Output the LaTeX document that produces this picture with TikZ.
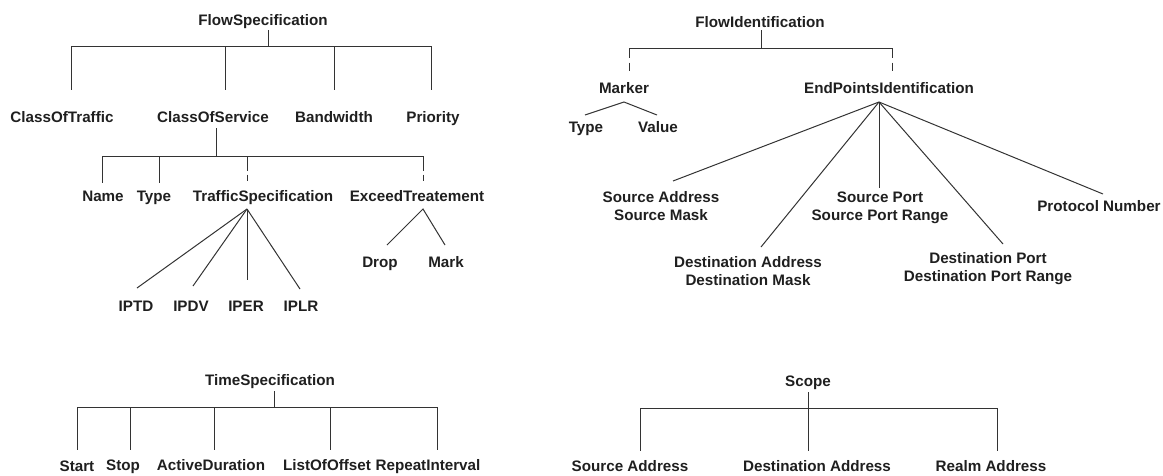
\documentclass[tikz,border=0pt]{standalone}
\usepackage{fontspec}
\setmainfont{Liberation Sans}
\begin{document}
\begin{tikzpicture}[x=1pt,y=-1pt,
  lbl/.style={font=\fontsize{15.2}{18.5}\selectfont\bfseries, text=black!88, inner sep=0pt, anchor=base},
  ln/.style={draw=black!80, line width=1pt},
  dshA/.style={ln, dash pattern=on 15pt off 3.5pt},
  dshB/.style={ln, dash pattern=on 10pt off 4.5pt}]
\useasboundingbox (0,0) rectangle (1163,475);
\newcommand{\twol}[2]{\begin{tabular}[t]{@{}c@{}}#1\\#2\end{tabular}}

% ---------------- FlowSpecification ----------------
\node[lbl] (fs) at (263,25) {FlowSpecification};
\coordinate (fsS) at (268,30); \coordinate (fsJ) at (268,46);
\node[lbl] (cot) at (62,122) {ClassOfTraffic};
\node[lbl] (cos) at (213,122) {ClassOfService};
\node[lbl] (bw) at (334,122) {Bandwidth};
\node[lbl] (pri) at (433,122) {Priority};
\coordinate (cotT) at (71,90); \coordinate (cosT) at (225,90);
\coordinate (bwT) at (334,90); \coordinate (priT) at (431,90);
\draw[ln] (fsS) -- (fsJ);
\draw[ln] (cotT|-fsJ) -- (priT|-fsJ);
\foreach \c in {cotT,cosT,bwT,priT} \draw[ln] (\c|-fsJ) -- (\c);

% ClassOfService children
\coordinate (cosS) at (216,128); \coordinate (cosJ) at (216,156);
\node[lbl] (name) at (103,201) {Name};
\node[lbl] (type) at (154,201) {Type};
\node[lbl] (ts) at (263,201) {TrafficSpecification};
\node[lbl] (et) at (417,201) {ExceedTreatement};
\coordinate (nameT) at (102,183); \coordinate (typeT) at (159,183);
\coordinate (tsT) at (247,181); \coordinate (etT) at (423,181);
\draw[ln] (cosS) -- (cosJ);
\draw[ln] (nameT|-cosJ) -- (etT|-cosJ);
\draw[ln] (nameT|-cosJ) -- (nameT);
\draw[ln] (typeT|-cosJ) -- (typeT);
\draw[dshA] (tsT|-cosJ) -- (tsT);
\draw[dshA] (etT|-cosJ) -- (etT);

% TrafficSpecification fan
\coordinate (tsA) at (247,209);
\node[lbl] (iptd) at (136,311) {IPTD};
\node[lbl] (ipdv) at (191,311) {IPDV};
\node[lbl] (iper) at (246,311) {IPER};
\node[lbl] (iplr) at (301,311) {IPLR};
\coordinate (iptdT) at (137,288); \coordinate (ipdvT) at (193,286);
\coordinate (iperT) at (247,280); \coordinate (iplrT) at (300,289);
\foreach \c in {iptdT,ipdvT,iperT,iplrT} \draw[ln] (tsA) -- (\c);

% ExceedTreatement fan
\coordinate (etA) at (423,209);
\node[lbl] (drop) at (380,267) {Drop};
\node[lbl] (mark) at (446,267) {Mark};
\coordinate (dropT) at (387,245); \coordinate (markT) at (445,245);
\draw[ln] (dropT) -- (etA) -- (markT);

% ---------------- FlowIdentification ----------------
\node[lbl] (fi) at (760,27) {FlowIdentification};
\coordinate (fiS) at (761,30); \coordinate (fiJ) at (761,48);
\node[lbl] (mk) at (624,93) {Marker};
\node[lbl] (epi) at (889,93) {EndPointsIdentification};
\coordinate (mkT) at (629,71); \coordinate (epiT) at (892,71);
\draw[ln] (fiS) -- (fiJ);
\draw[ln] (mkT|-fiJ) -- (epiT|-fiJ);
\draw[dshB] (mkT|-fiJ) -- (mkT);
\draw[dshB] (epiT|-fiJ) -- (epiT);

% Marker fan
\coordinate (mkA) at (624,102);
\node[lbl] (mtype) at (586,132) {Type};
\node[lbl] (mval) at (658,132) {Value};
\coordinate (mtypeT) at (585,115); \coordinate (mvalT) at (657,115);
\draw[ln] (mtypeT) -- (mkA) -- (mvalT);

% EndPointsIdentification fan
\coordinate (epiA) at (879,102);
\node[lbl] (sa) at (661,202) {\twol{Source Address}{Source Mask}};
\node[lbl] (da) at (748,267) {\twol{Destination Address}{Destination Mask}};
\node[lbl] (sp) at (880,202) {\twol{Source Port}{Source Port Range}};
\node[lbl] (dp) at (988,263) {\twol{Destination Port}{Destination Port Range}};
\node[lbl] (pn) at (1099,211) {Protocol Number};
\coordinate (saT) at (673,181); \coordinate (daT) at (761,247);
\coordinate (spT) at (879,188); \coordinate (dpT) at (1003,244);
\coordinate (pnT) at (1103,194);
\foreach \c in {saT,daT,spT,dpT,pnT} \draw[ln] (epiA) -- (\c);

% ---------------- TimeSpecification ----------------
\node[lbl] (tsp) at (270,385) {TimeSpecification};
\coordinate (tspS) at (274,391); \coordinate (tspJ) at (274,407);
\node[lbl] (start) at (77,471.5) {Start};
\node[lbl] (stop) at (123,470.5) {Stop};
\node[lbl] (ad) at (211,470.5) {ActiveDuration};
\node[lbl] (loo) at (327,470.5) {ListOfOffset};
\node[lbl] (ri) at (428,470.5) {RepeatInterval};
\coordinate (startT) at (77,450); \coordinate (stopT) at (130,450);
\coordinate (adT) at (214,450); \coordinate (looT) at (330,450);
\coordinate (riT) at (437,450);
\draw[ln] (tspS) -- (tspJ);
\draw[ln] (startT|-tspJ) -- (riT|-tspJ);
\foreach \c in {startT,stopT,adT,looT,riT} \draw[ln] (\c|-tspJ) -- (\c);

% ---------------- Scope ----------------
\node[lbl] (sc) at (808,386) {Scope};
\coordinate (scS) at (808,392); \coordinate (scJ) at (808,408);
\node[lbl] (ssa) at (630,471.5) {Source Address};
\node[lbl] (sda) at (817,471.5) {Destination Address};
\node[lbl] (sra) at (991,471.5) {Realm Address};
\coordinate (ssaT) at (640,451); \coordinate (sdaT) at (808,451);
\coordinate (sraT) at (997,451);
\draw[ln] (scS) -- (scJ);
\draw[ln] (ssaT|-scJ) -- (sraT|-scJ);
\foreach \c in {ssaT,sdaT,sraT} \draw[ln] (\c|-scJ) -- (\c);
\end{tikzpicture}
\end{document}
